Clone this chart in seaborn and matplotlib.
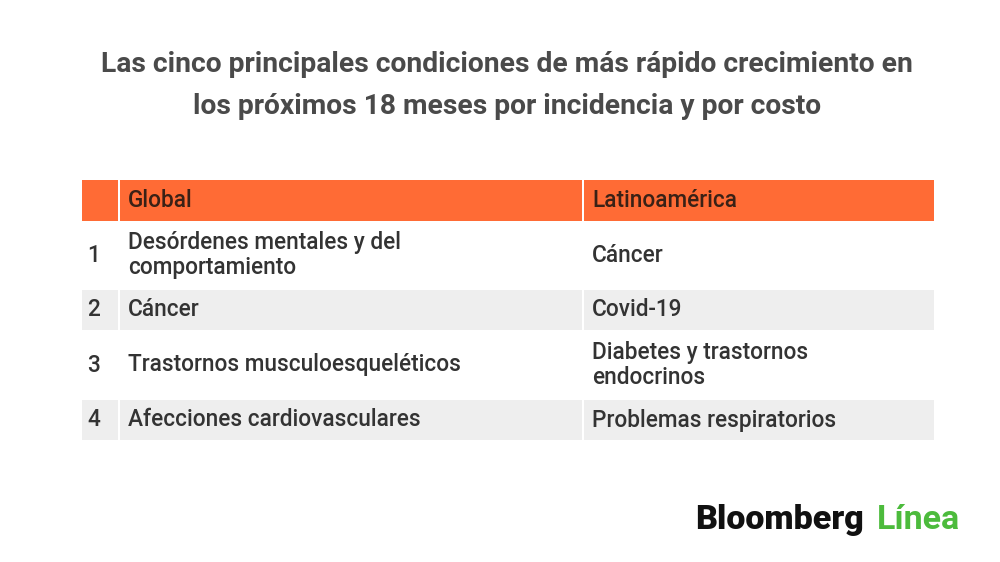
import matplotlib.pyplot as plt
import seaborn as sns

# data
title_lines = ["Las cinco principales condiciones de más rápido crecimiento en",
               "los próximos 18 meses por incidencia y por costo"]
header = ["", "Global", "Latinoamérica"]
ranks = ["1", "2", "3", "4"]
global_conditions = ["Desórdenes mentales y del\ncomportamiento", "Cáncer",
                     "Trastornos musculoesqueléticos", "Afecciones cardiovasculares"]
latam_conditions = ["Cáncer", "Covid-19", "Diabetes y trastornos\nendocrinos",
                    "Problemas respiratorios"]

sns.set_theme(style="white")
plt.rcParams["font.family"] = ["Roboto", "DejaVu Sans"]

orange = "#ff6b35"
stripe = "#eeeeee"
text_col = "#333333"
body_size = 16.3

# layout in pixels (axes == figure)
col_left = [82, 120, 584]
col_width = [36, 462, 350]
text_pad = 8
header_top, header_h = 180, 41
row_gap = 2
line_h = 26
base_h = 40

fig = plt.figure(figsize=(10, 5.62), dpi=100)
ax = fig.add_axes([0, 0, 1, 1])
ax.set_xlim(0, 1000)
ax.set_ylim(562, 0)
ax.axis("off")

# title
for i, line in enumerate(title_lines):
    ax.text(507, 64 + i * 43, line, ha="center", va="center", fontsize=20.3,
            fontweight="bold", color="#4a4a4a")

# header
ax.bar(col_left, [header_h] * 3, width=col_width, bottom=header_top, align="edge",
       color=orange, linewidth=0)
for x, w, label in zip(col_left, col_width, header):
    ax.text(x + text_pad, header_top + header_h / 2, label, ha="left", va="center",
            fontsize=body_size, fontweight="medium", color="#3a2116")

# body rows
y = header_top + header_h + 1
for i, (r, g, l) in enumerate(zip(ranks, global_conditions, latam_conditions)):
    n_lines = max(g.count("\n"), l.count("\n")) + 1
    h = base_h + line_h * (n_lines - 1)
    fill = stripe if i % 2 == 1 else "white"
    ax.bar(col_left, [h] * 3, width=col_width, bottom=y, align="edge",
           color=fill, linewidth=0)
    cy = y + h / 2
    ax.text(col_left[0] + 5, cy, r, ha="left", va="center", fontsize=body_size,
            fontweight="medium", color=text_col)
    ax.text(col_left[1] + text_pad, cy, g, ha="left", va="center", fontsize=body_size,
            fontweight="medium", color=text_col, linespacing=1.15)
    ax.text(col_left[2] + text_pad, cy, l, ha="left", va="center", fontsize=body_size,
            fontweight="medium", color=text_col, linespacing=1.15)
    y += h + row_gap

# logo
ax.text(695, 520, "Bloomberg", ha="left", va="center", fontsize=24.5, fontweight="heavy",
        color="#111111")
ax.text(877, 520, "Línea", ha="left", va="center", fontsize=24.5, fontweight="bold",
        color="#4cbb3c")

fig.savefig("out.png", dpi=100)
